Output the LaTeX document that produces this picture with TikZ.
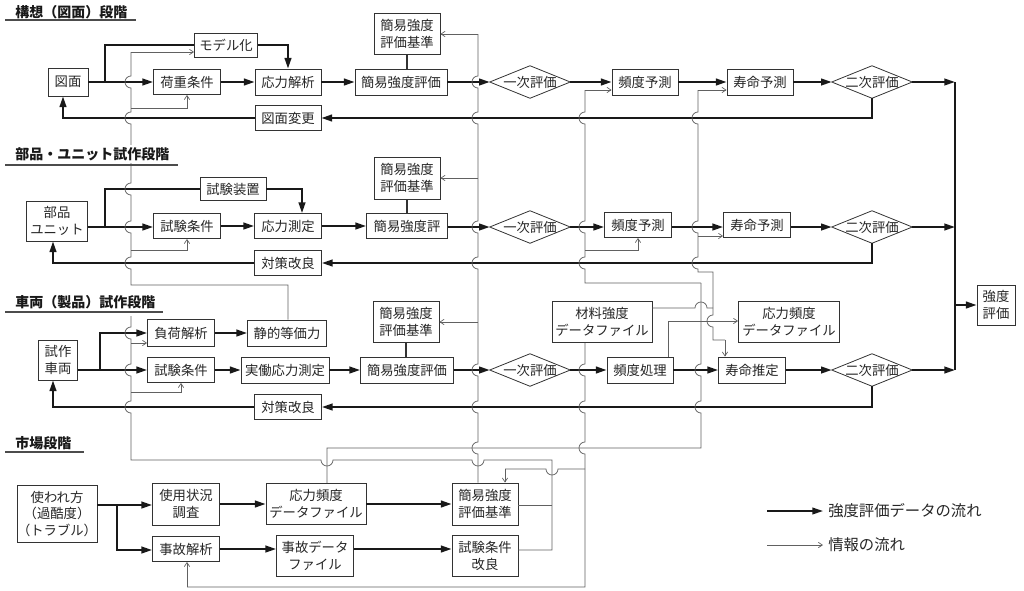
\documentclass[tikz,border=0pt]{standalone}
\usepackage{fontspec}
\setmainfont{Noto Sans CJK JP}
\usetikzlibrary{arrows.meta,calc}
\newcommand\vh[2]{-- (#1,#2-6) arc[start angle=90,end angle=270,radius=4.5pt]}
\newcommand\vhu[2]{-- (#1,#2+6) arc[start angle=270,end angle=90,radius=4.5pt]}
\newcommand\hhr[2]{-- (#1-6,#2) arc[start angle=180,end angle=360,radius=4.5pt]}
\newcommand\hhru[2]{-- (#1-6,#2) arc[start angle=180,end angle=0,radius=4.5pt]}
\newcommand\hhl[2]{-- (#1+6,#2) arc[start angle=0,end angle=-180,radius=4.5pt]}
\newcommand\dnode[4]{\node[dtext] (#1) at (#2,#3) {#4};
  \draw[boxline] (#1.west) -- (#1.north) -- (#1.east) -- (#1.south) -- cycle;}
\begin{document}
\begin{tikzpicture}[x=0.75pt,y=-0.75pt,
  every node/.style={font=\fontsize{10}{12.5}\selectfont, text=black!85},
  bw/.style={minimum width=#1*0.75pt},
  bh/.style={minimum height=#1*0.75pt},
  boxline/.style={draw=black!80,line width=0.6pt},
  box/.style={boxline,inner sep=0pt,align=center,fill=white},
  dtext/.style={inner sep=0pt,minimum width=60pt,minimum height=24pt},
  hdr/.style={font=\fontsize{10.5}{12}\bfseries\selectfont,anchor=west,inner sep=1.5pt,fill=white,text=black!90},
  uline/.style={draw=black!70,line width=0.9pt},
  flow/.style={draw=black!90,line width=1.5pt},
  flowarr/.style={flow,-{Triangle[length=8pt,width=5pt]}},
  info/.style={draw=black!62,line width=0.55pt},
  infoarr/.style={info,-{Straight Barb[length=3pt,width=4pt]}},
  plain/.style={draw=black!80,line width=0.8pt}]
\useasboundingbox (0,0) rectangle (1024,590);

% ---------- row 1 ----------
\node[box,bw=40,bh=28] (zumen) at (68,82) {図面};
\node[box,bw=63,bh=24] (model) at (226,45) {モデル化};
\node[box,bw=67,bh=25] (kaju) at (187,82) {荷重条件};
\node[box,bw=66,bh=26] (oryoku1) at (288,82) {応力解析};
\node[box,bw=92,bh=26] (kanieval1) at (401,82) {簡易強度評価};
\node[box,bw=66,bh=41] (kijun1) at (407,34) {簡易強度\\評価基準};
\dnode{ichiji1}{530}{82}{一次評価}
\node[box,bw=66,bh=26] (hindo1) at (645,82) {頻度予測};
\node[box,bw=66,bh=26] (jumyo1) at (760,82) {寿命予測};
\dnode{niji1}{872}{82}{二次評価}
\node[box,bw=66,bh=25] (henko) at (288,118) {図面変更};

% ---------- row 2 ----------
\node[box,bw=61,bh=40] (buhin) at (57,221) {部品\\ユニット};
\node[box,bw=66,bh=23] (souchi) at (233,189) {試験装置};
\node[box,bw=67,bh=25] (shiken2) at (187,226) {試験条件};
\node[box,bw=67,bh=25] (sokutei2) at (288,226) {応力測定};
\node[box,bw=81,bh=25] (kanieval2) at (407,226) {簡易強度評};
\node[box,bw=66,bh=42] (kijun2) at (407,178) {簡易強度\\評価基準};
\dnode{ichiji2}{530}{227}{一次評価}
\node[box,bw=67,bh=25] (hindo2) at (638,225) {頻度予測};
\node[box,bw=67,bh=25] (jumyo2) at (757,225) {寿命予測};
\dnode{niji2}{872}{227}{二次評価}
\node[box,bw=67,bh=25] (taisaku2) at (288,263) {対策改良};

% ---------- row 3 ----------
\node[box,bw=39,bh=40] (shisaku) at (58,360) {試作\\車両};
\node[box,bw=67,bh=27] (fuka) at (181,333) {負荷解析};
\node[box,bw=79,bh=26] (seiteki) at (287,333) {静的等価力};
\node[box,bw=67,bh=25] (shiken3) at (181,370) {試験条件};
\node[box,bw=88,bh=26] (jitsudo) at (285,370) {実働応力測定};
\node[box,bw=93,bh=26] (kanieval3) at (407,370) {簡易強度評価};
\node[box,bw=66,bh=41] (kijun3) at (406,322) {簡易強度\\評価基準};
\dnode{ichiji3}{530}{370}{一次評価}
\node[box,bw=100,bh=41] (zairyo) at (602,322) {材料強度\\データファイル};
\node[box,bw=66,bh=26] (hindoshori) at (640,370) {頻度処理};
\node[box,bw=67,bh=26] (suitei) at (752,370) {寿命推定};
\node[box,bw=101,bh=41] (ohfile3) at (789,322) {応力頻度\\データファイル};
\dnode{niji3}{872}{370}{二次評価}
\node[box,bw=67,bh=25] (taisaku3) at (288,407) {対策改良};
\node[box,bw=38,bh=40] (kyodo) at (996,305) {強度\\評価};

% ---------- market ----------
\node[box,bw=71,bh=57] (tsukawa) at (57,514) {使われ方\\（過酷度）\\（トラブル）};
\node[box,bw=67,bh=42] (shiyo) at (186,504) {使用状況\\調査};
\node[box,bw=67,bh=25] (jiko) at (186,549) {事故解析};
\node[box,bw=100,bh=41] (ohfile4) at (316,504) {応力頻度\\データファイル};
\node[box,bw=77,bh=41] (jikofile) at (315,556) {事故データ\\ファイル};
\node[box,bw=66,bh=42] (kijun4) at (485,504) {簡易強度\\評価基準};
\node[box,bw=66,bh=41] (kairyo) at (485,556) {試験条件\\改良};

% ---------- legend ----------
\coordinate (l1a) at (767,511); \coordinate (l1b) at (823,511);
\coordinate (l2a) at (767,545); \coordinate (l2b) at (823,545);
\draw[flowarr,line width=1.3pt] (l1a) -- (l1b);
\draw[infoarr] (l2a) -- (l2b);
\node[anchor=west,font=\fontsize{11.5}{13}\selectfont,inner sep=0pt] (lt1) at (828,511) {強度評価データの流れ};
\node[anchor=west,font=\fontsize{11.5}{13}\selectfont,inner sep=0pt] (lt2) at (828,545) {情報の流れ};

% ---------- thick flows ----------
\coordinate (rail) at (955,82);
\draw[flowarr] (zumen) -- (kaju);
\draw[flow] (105,82) -- (105,45) -- (model.west);
\draw[flowarr] (model.east) -- (288,45) -- (oryoku1.north);
\draw[flowarr] (kaju) -- (oryoku1);
\draw[flowarr] (oryoku1) -- (kanieval1);
\draw[plain] (kijun1.south) -- (kijun1.south |- kanieval1.north);
\draw[flowarr] (kanieval1) -- (ichiji1.west);
\draw[flowarr] (ichiji1.east) -- (hindo1);
\draw[flowarr] (hindo1) -- (jumyo1);
\draw[flowarr] (jumyo1) -- (niji1.west);
\draw[flowarr] (niji1.east) -- (rail);
\draw[flowarr] (niji1.south) -- (872,118) -- (henko.east);
\draw[flowarr] (henko.west) -- (63,118) -- (63,0 |- zumen.south);

\draw[flowarr] ([yshift=-4.5pt]buhin.east) -- (shiken2.west |- 0,227);
\draw[flow] (105,227) -- (105,189) -- (souchi.west);
\draw[flowarr] (souchi.east) -- (302,189) -- (302,0 |- sokutei2.north);
\draw[flowarr] (shiken2) -- (sokutei2);
\draw[flowarr] (sokutei2) -- (kanieval2);
\draw[plain] (kijun2.south) -- (kanieval2.north);
\draw[flowarr] (kanieval2.east |- 0,227) -- (ichiji2.west);
\draw[flowarr] (ichiji2.east) -- (hindo2.west |- 0,227);
\draw[flowarr] (hindo2.east |- 0,227) -- (jumyo2.west |- 0,227);
\draw[flowarr] (jumyo2.east |- 0,227) -- (niji2.west);
\draw[flowarr] (niji2.east) -- (955,227);
\draw[flowarr] (niji2.south) -- (872,263) -- (taisaku2.east);
\draw[flowarr] (taisaku2.west) -- (53,263) -- (53,0 |- buhin.south);

\draw[flowarr] ([yshift=-7.5pt]shisaku.east) -- (shiken3.west);
\draw[flowarr] (100,370) -- (100,333) -- (fuka.west);
\draw[flowarr] (fuka) -- (seiteki);
\draw[flowarr] (shiken3) -- (jitsudo);
\draw[flowarr] (jitsudo) -- (kanieval3);
\draw[plain] (kijun3.south) -- (kijun3.south |- kanieval3.north);
\draw[flowarr] (kanieval3) -- (ichiji3.west);
\draw[flowarr] (ichiji3.east) -- (hindoshori);
\draw[flowarr] (hindoshori) -- (suitei);
\draw[flowarr] (suitei) -- (niji3.west);
\draw[flowarr] (niji3.east) -- (955,370);
\draw[flowarr] (niji3.south) -- (872,407) -- (taisaku3.east);
\draw[flowarr] (taisaku3.west) -- (53,407) -- (53,0 |- shisaku.south);
\draw[flow] (rail) -- (955,370);
\draw[flowarr] (955,305) -- (kyodo.west);

\draw[flowarr] (tsukawa.east |- 0,505) -- (shiyo.west |- 0,505);
\draw[flowarr] (117,505) -- (117,550) -- (jiko.west |- 0,550);
\draw[flowarr] (shiyo) -- (ohfile4);
\draw[flowarr] (ohfile4) -- (kijun4);
\draw[flowarr] (jiko.east) -- (jikofile.west |- jiko.east);
\draw[flowarr] (jikofile.east |- jiko.east) -- (kairyo.west |- jiko.east);

% ---------- info lines ----------
\draw[info] (131,52) \vh{131}{82} \vh{131}{118} \vh{131}{189} \vh{131}{227} \vh{131}{263} -- (131,285) -- (288,285) -- (288,0 |- seiteki.north);
\draw[infoarr] (131,52) -- (model.west |- 0,52);
\draw[infoarr] (131,108) -- (187,108) -- (kaju.south);
\draw[infoarr] (131,250) -- (187,250) -- (shiken2.south);
\draw[info] (131,316) \vh{131}{333} \vh{131}{370} \vh{131}{407} -- (131,460) \hhr{327}{460} \hhr{478}{460} -- (552,460) -- (552,550) -- (kairyo.east |- 0,550);
\draw[infoarr] (131,343) -- (fuka.west |- 0,343);
\draw[infoarr] (131,392) -- (181,392) -- (shiken3.south);
\draw[info] (kijun4.east |- 0,505) -- (552,505);

\draw[info] (478,34) \vh{478}{82} \vh{478}{118} \vh{478}{227} \vh{478}{263} \vh{478}{370} \vh{478}{407} \vh{478}{448} -- (478,0 |- kijun4.north);
\draw[infoarr] (478,34) -- (kijun1.east);
\draw[infoarr] (478,178) -- (kijun2.east);
\draw[infoarr] (478,322) -- (kijun3.east);

% frequency-side lines
\draw[info] (585,90) \vh{585}{118} \vh{585}{227} \vh{585}{263} -- (585,283) -- (701,283);
\draw[infoarr] (585,90) -- (hindo1.west |- 0,90);
\draw[infoarr] (585,250) -- (638,250) -- (hindo2.south);
\draw[info] (698,90) \vh{698}{118} \vh{698}{227} \vh{698}{263} -- (698,272) -- (713,272) \vh{713}{321} -- (713,340) -- (725,340);
\draw[infoarr] (725,340) -- (725,0 |- suitei.north);
\draw[infoarr] (698,90) -- (jumyo1.west |- 0,90);
\draw[infoarr] (698,236) -- (jumyo2.west |- 0,236);
\draw[infoarr] (668,0 |- hindoshori.north) -- (668,321) -- (ohfile3.west |- 0,321);
\draw[info] (zairyo.east |- 0,308) \hhru{701}{308} -- (713,308);

\draw[info] (585,0 |- zairyo.south) \vh{585}{370} \vh{585}{407} \vh{585}{448} -- (585,587) -- (187,587);
\draw[infoarr] (187,587) -- (187,0 |- jiko.south);
\draw[info] (585,469) \hhl{552}{469} -- (505,469);
\draw[infoarr] (505,469) -- (505,0 |- kijun4.north);
\draw[info] (327,0 |- ohfile4.north) -- (327,448) -- (701,448) \vhu{701}{407} \vhu{701}{370} -- (701,283);

% ---------- headers (drawn last so they mask lines) ----------
\node[hdr] (h1) at (13,12) {構想（図面）段階};
\draw[uline] (5,20) -- (136,20);
\node[hdr] (h2) at (13,154) {部品・ユニット試作段階};
\draw[uline] (5,165) -- (178,165);
\node[hdr] (h3) at (13,302) {車両（製品）試作段階};
\draw[uline] (5,312) -- (163,312);
\node[hdr] (h4) at (13,443) {市場段階};
\draw[uline] (5,452) -- (84,452);
\end{tikzpicture}
\end{document}
